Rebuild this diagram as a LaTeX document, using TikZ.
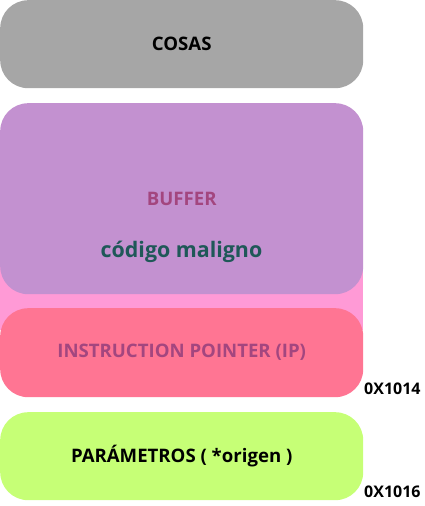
\documentclass[tikz,border=0pt]{standalone}
\usepackage{fontspec}
\setmainfont{Open Sans}

\definecolor{cosasgris}{HTML}{A6A6A6}
\definecolor{bufferlila}{HTML}{C391D0}
\definecolor{fondorosa}{HTML}{FF9AD6}
\definecolor{iprosa}{HTML}{FF7593}
\definecolor{paramverde}{HTML}{C6FF76}
\definecolor{textomorado}{HTML}{A3467F}
\definecolor{textoverde}{HTML}{1F5858}

\begin{document}
\begin{tikzpicture}[x = 1pt, y = -1pt,
    bloque/.style = {rounded corners = 28pt, inner sep = 0pt,
      minimum width = 363pt, anchor = north west},
    rotulo/.style = {font = \fontsize{18.6}{22}\selectfont\bfseries},
    direccion/.style = {font = \fontsize{16}{19}\selectfont\bfseries, anchor = base west, inner sep = 0pt}]
  \useasboundingbox (0,0) rectangle (425,506);
  % fondo rosa detras del buffer y del IP
  \fill[fondorosa] (0,240) rectangle (363,330);
  \node[bloque, fill = cosasgris, minimum height = 88pt] (cosas) at (0,0) {};
  \node[bloque, fill = bufferlila, minimum height = 191pt] (buffer) at (0,103) {};
  \node[bloque, fill = iprosa, minimum height = 89pt] (ip) at (0,308) {};
  \node[bloque, fill = paramverde, minimum height = 88pt] (param) at (0,412) {};
  % textos
  \node[rotulo] (tcosas) at (cosas.center) {COSAS};
  \node[rotulo, text = textomorado] (tbuffer) at (buffer.center) {BUFFER};
  \node[font = \fontsize{21.4}{26}\selectfont\bfseries, text = textoverde, anchor = base]
    (tcodigo) at (181.5,257) {código maligno};
  \node[rotulo, text = textomorado] (tip) at (ip.center) {INSTRUCTION POINTER (IP)};
  \node[rotulo] (tparam) at (param.center) {PARÁMETROS ( *origen )};
  \node[direccion] (dirip) at (364,394) {0X1014};
  \node[direccion] (dirparam) at (364,497) {0X1016};
\end{tikzpicture}
\end{document}
